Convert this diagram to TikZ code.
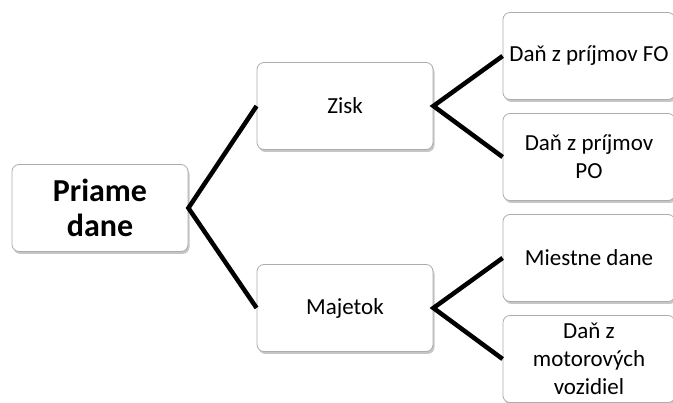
\documentclass[tikz,border=0pt]{standalone}
\usepackage{fontspec}
\setmainfont{Carlito}
\usetikzlibrary{shadows}

\tikzset{
	box/.style={draw=gray!65, line width=0.8pt, fill=white, rounded corners=7pt,
		minimum width=176pt, minimum height=87pt, align=center, inner sep=2pt,
		font=\fontsize{23}{28}\selectfont,
		drop shadow={shadow xshift=1.5pt, shadow yshift=-2.5pt, opacity=0.45, fill=gray}},
	leaf/.style={box, minimum width=172pt},
	link/.style={line width=4.5pt, black}
}

\begin{document}
\begin{tikzpicture}[x=1pt,y=-1pt]
		
		\useasboundingbox (0,0) rectangle (673,403);
		
		\node[box, font=\fontsize{32}{35}\selectfont\bfseries] (root) at (100,208) {Priame\\dane};
		
		\node[box] (zisk) at (345,106) {Zisk};
		\node[box] (majetok) at (345,308) {Majetok};
		
		\node[leaf] (fo) at (589,56) {Daň z príjmov FO};
		\node[leaf] (po) at (589,157) {Daň z príjmov\\PO};
		\node[leaf] (miestne) at (589,258) {Miestne dane};
		\node[leaf] (motor) at (589,359) {Daň z\\motorových\\vozidiel};
		
		\draw[link] (zisk.west) -- (root.east) -- (majetok.west);
		\draw[link] (fo.west) -- (zisk.east) -- (po.west);
		\draw[link] (miestne.west) -- (majetok.east) -- (motor.west);
		
\end{tikzpicture}
\end{document}
